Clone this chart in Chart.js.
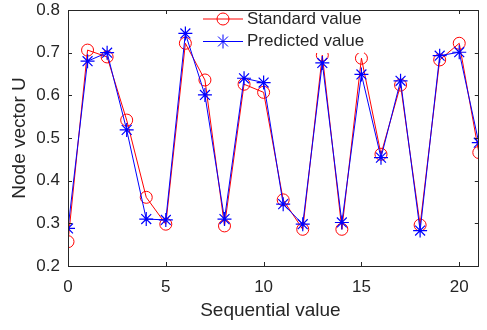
<!DOCTYPE html>
<html lang="en">
<head>
    <meta charset="UTF-8">
    <title>Node vector U</title>
    <script src="https://cdn.jsdelivr.net/npm/chart.js"></script>
    <style>
        html, body {
            margin: 0;
            padding: 0;
            background: #ffffff;
        }

        .chart-box {
            width: 487px;
            height: 330px;
        }
    </style>
</head>
<body>
    <div class="chart-box">
        <canvas id="nodeChart"></canvas>
    </div>

    <script>
        // values
        const sequence = [0, 1, 2, 3, 4, 5, 6, 7, 8, 9, 10, 11, 12, 13, 14, 15, 16, 17, 18, 19, 20, 21];
        const standardValues = [0.257, 0.706, 0.690, 0.542, 0.361, 0.298, 0.722, 0.636, 0.294, 0.626, 0.607,
            0.355, 0.286, 0.694, 0.286, 0.687, 0.462, 0.624, 0.296, 0.683, 0.722, 0.466];
        const predictedValues = [0.288, 0.680, 0.700, 0.519, 0.310, 0.308, 0.745, 0.601, 0.310, 0.640, 0.630,
            0.345, 0.298, 0.676, 0.302, 0.649, 0.454, 0.634, 0.283, 0.693, 0.701, 0.489];
        const xTicks = [0, 5, 10, 15, 20];
        const yTicks = [0.2, 0.3, 0.4, 0.5, 0.6, 0.7, 0.8];
        const xTitle = 'Sequential value';

        const textColor = '#262626';
        const fontFamily = "'Liberation Sans', Arial, sans-serif";

        // MATLAB style box with inward ticks, x axis labels, and the legend inside the plot
        const boxPlugin = {
            id: 'boxPlugin',
            afterDraw(chart) {
                const { ctx, chartArea: a, scales } = chart;
                ctx.save();
                ctx.strokeStyle = textColor;
                ctx.lineWidth = 1;
                ctx.beginPath();
                ctx.rect(Math.round(a.left) + 0.5, Math.round(a.top) + 0.5,
                    Math.round(a.right - a.left) - 1, Math.round(a.bottom - a.top));
                ctx.stroke();

                const len = 4;
                ctx.beginPath();
                xTicks.forEach(v => {
                    const px = Math.round(scales.x.getPixelForValue(v)) + 0.5;
                    ctx.moveTo(px, a.bottom);
                    ctx.lineTo(px, a.bottom - len);
                    ctx.moveTo(px, a.top);
                    ctx.lineTo(px, a.top + len);
                });
                yTicks.forEach(v => {
                    const py = Math.round(scales.y.getPixelForValue(v)) + 0.5;
                    ctx.moveTo(a.left, py);
                    ctx.lineTo(a.left + len, py);
                    ctx.moveTo(a.right, py);
                    ctx.lineTo(a.right - len, py);
                });
                ctx.stroke();

                // x tick labels and title (the x scale itself is hidden so it takes no room on the right)
                ctx.fillStyle = textColor;
                ctx.font = `17px ${fontFamily}`;
                ctx.textAlign = 'center';
                ctx.textBaseline = 'middle';
                xTicks.forEach(v => {
                    ctx.fillText(String(v), scales.x.getPixelForValue(v), a.bottom + 21);
                });
                ctx.font = `19px ${fontFamily}`;
                ctx.fillText(xTitle, (a.left + a.right) / 2 - 3, a.bottom + 45);

                // legend
                ctx.fillStyle = '#ffffff';
                ctx.fillRect(201, 11, 163, 42);
                chart.data.datasets.forEach((ds, i) => {
                    const y = 19 + i * 22.5;
                    ctx.strokeStyle = ds.borderColor;
                    ctx.lineWidth = 1;
                    ctx.beginPath();
                    ctx.moveTo(203, y);
                    ctx.lineTo(243, y);
                    ctx.stroke();
                    const cx = 223;
                    ctx.beginPath();
                    if (ds.pointStyle === 'circle') {
                        ctx.arc(cx, y, ds.pointRadius, 0, Math.PI * 2);
                    } else {
                        const r = ds.pointRadius;
                        ctx.moveTo(cx - r, y); ctx.lineTo(cx + r, y);
                        ctx.moveTo(cx, y - r); ctx.lineTo(cx, y + r);
                        const d = r * Math.SQRT1_2;
                        ctx.moveTo(cx - d, y - d); ctx.lineTo(cx + d, y + d);
                        ctx.moveTo(cx - d, y + d); ctx.lineTo(cx + d, y - d);
                    }
                    ctx.stroke();
                    ctx.fillStyle = textColor;
                    ctx.font = `17px ${fontFamily}`;
                    ctx.textBaseline = 'middle';
                    ctx.textAlign = 'left';
                    ctx.fillText(ds.label, 247, y);
                });
                ctx.restore();
            }
        };

        const ctx = document.getElementById('nodeChart').getContext('2d');
        new Chart(ctx, {
            type: 'line',
            data: {
                datasets: [
                    {
                        label: 'Standard value',
                        data: sequence.map((x, i) => ({ x: x, y: standardValues[i] })),
                        borderColor: '#ff0000',
                        backgroundColor: 'rgba(0,0,0,0)',
                        borderWidth: 1,
                        pointStyle: 'circle',
                        pointRadius: 6,
                        pointBorderWidth: 1,
                        pointBorderColor: '#ff0000',
                        pointBackgroundColor: 'rgba(0,0,0,0)',
                        tension: 0,
                        order: 1
                    },
                    {
                        label: 'Predicted value',
                        data: sequence.map((x, i) => ({ x: x, y: predictedValues[i] })),
                        borderColor: '#0000ff',
                        backgroundColor: 'rgba(0,0,0,0)',
                        borderWidth: 1,
                        pointStyle: 'star',
                        pointRadius: 7,
                        pointBorderWidth: 1.2,
                        pointBorderColor: '#0000ff',
                        pointBackgroundColor: 'rgba(0,0,0,0)',
                        tension: 0,
                        order: 0
                    }
                ]
            },
            options: {
                responsive: true,
                maintainAspectRatio: false,
                animation: false,
                layout: { padding: { top: 10, right: 2, left: 0, bottom: 64 } },
                plugins: {
                    legend: { display: false },
                    tooltip: { enabled: false }
                },
                scales: {
                    x: {
                        type: 'linear',
                        display: false,
                        min: 0,
                        max: 21
                    },
                    y: {
                        min: 0.2,
                        max: 0.8,
                        afterBuildTicks: scale => { scale.ticks = yTicks.map(v => ({ value: v })); },
                        afterFit: scale => {
                            scale.width = 68;
                            scale.paddingTop = 0;
                            scale.paddingBottom = 0;
                            scale.paddingLeft = 0;
                            scale.paddingRight = 0;
                        },
                        grid: { display: false, drawTicks: false },
                        border: { display: false },
                        ticks: {
                            color: textColor,
                            font: { family: fontFamily, size: 17 },
                            padding: 8,
                            callback: v => v.toFixed(1)
                        },
                        title: {
                            display: true,
                            text: 'Node vector U',
                            color: textColor,
                            font: { family: fontFamily, size: 19 },
                            padding: { top: 8, bottom: 0 }
                        }
                    }
                }
            },
            plugins: [boxPlugin]
        });
    </script>
</body>
</html>
